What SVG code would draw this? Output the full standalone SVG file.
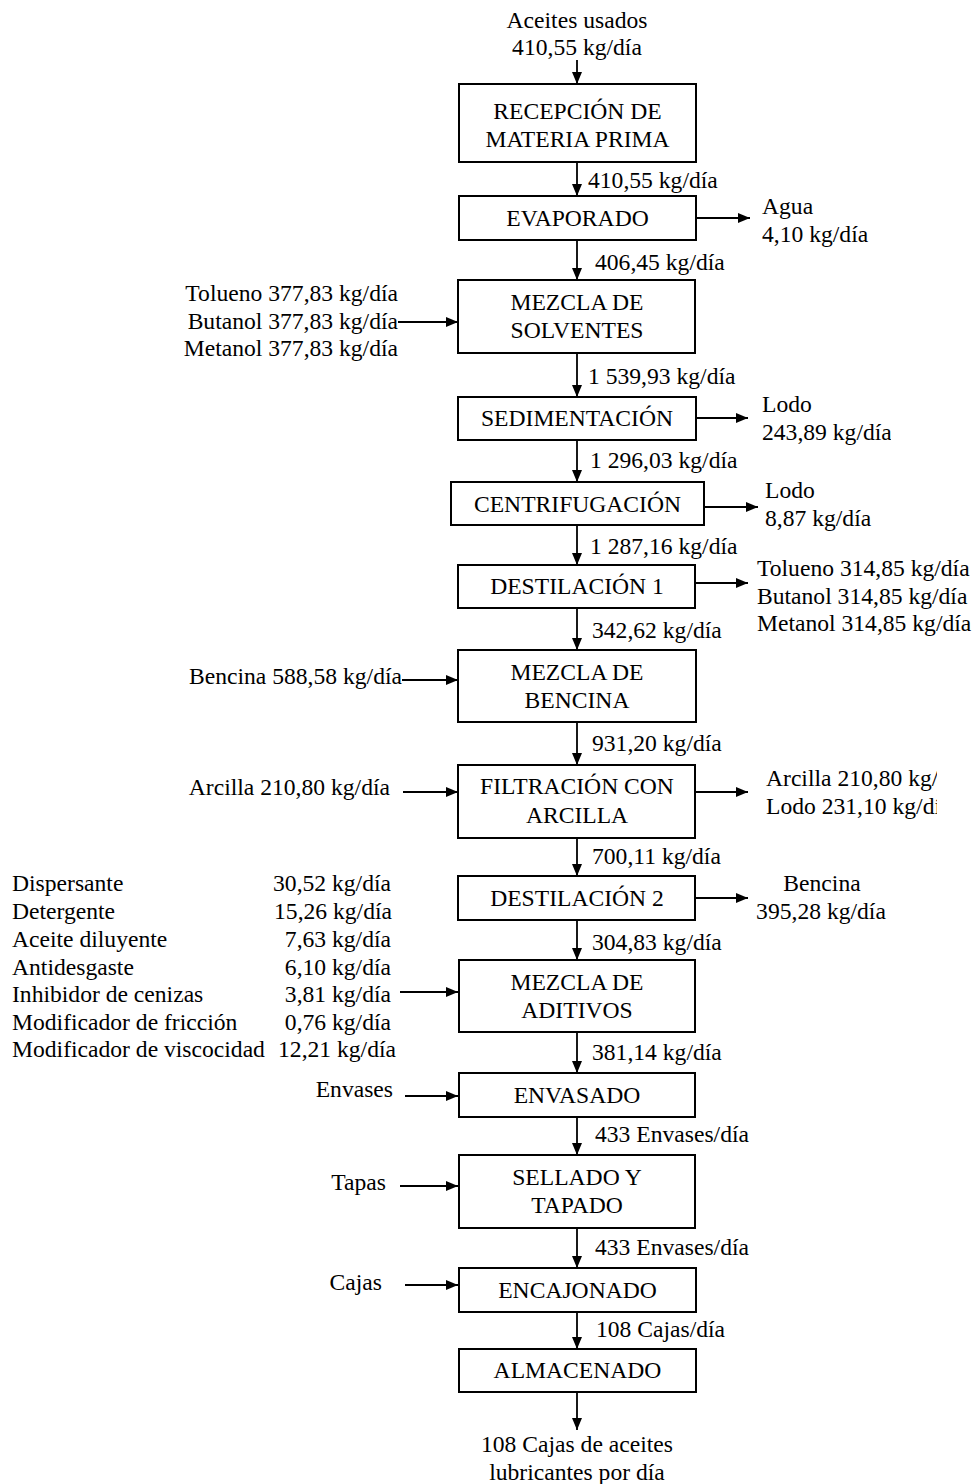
<svg xmlns="http://www.w3.org/2000/svg" width="976" height="1484" viewBox="0 0 976 1484">
<style>
.box{fill:#fff;stroke:#000;stroke-width:2}
.t{font-family:"Liberation Serif","Times New Roman",serif;font-size:23.6px;fill:#000}
.c{text-anchor:middle}
.e{text-anchor:end}
.ln{stroke:#000;stroke-width:1.8;fill:none;marker-end:url(#ah)}
</style>
<defs>
<marker id="ah" markerWidth="12" markerHeight="10" refX="12" refY="5" orient="auto" markerUnits="userSpaceOnUse"><path d="M0,0 L12,5 L0,10 z" fill="#000"/></marker>
<clipPath id="clipR1"><rect x="700" y="420" width="191" height="30"/></clipPath>
<clipPath id="clipR2"><rect x="700" y="760" width="237" height="70"/></clipPath>
</defs>
<rect width="976" height="1484" fill="#fff"/>
<g id="connectors">
<line class="ln" x1="577" y1="60" x2="577" y2="84"/>
<line class="ln" x1="577" y1="162" x2="577" y2="196"/>
<line class="ln" x1="577" y1="240" x2="577" y2="280"/>
<line class="ln" x1="577" y1="353" x2="577" y2="397"/>
<line class="ln" x1="577" y1="440" x2="577" y2="482"/>
<line class="ln" x1="577" y1="525" x2="577" y2="565"/>
<line class="ln" x1="577" y1="608" x2="577" y2="650"/>
<line class="ln" x1="577" y1="722" x2="577" y2="765"/>
<line class="ln" x1="577" y1="838" x2="577" y2="876"/>
<line class="ln" x1="577" y1="920" x2="577" y2="960"/>
<line class="ln" x1="577" y1="1032" x2="577" y2="1073"/>
<line class="ln" x1="577" y1="1117" x2="577" y2="1155"/>
<line class="ln" x1="577" y1="1228" x2="577" y2="1268"/>
<line class="ln" x1="577" y1="1312" x2="577" y2="1349"/>
<line class="ln" x1="577" y1="1392" x2="577" y2="1430"/>
<line class="ln" x1="696" y1="218" x2="750" y2="218"/>
<line class="ln" x1="398" y1="322" x2="458" y2="322"/>
<line class="ln" x1="696" y1="418" x2="748" y2="418"/>
<line class="ln" x1="704" y1="507" x2="758" y2="507"/>
<line class="ln" x1="695" y1="583" x2="748" y2="583"/>
<line class="ln" x1="402" y1="680" x2="458" y2="680"/>
<line class="ln" x1="403" y1="792" x2="458" y2="792"/>
<line class="ln" x1="695" y1="792" x2="748" y2="792"/>
<line class="ln" x1="695" y1="898" x2="748" y2="898"/>
<line class="ln" x1="400" y1="992" x2="458" y2="992"/>
<line class="ln" x1="405" y1="1096" x2="458" y2="1096"/>
<line class="ln" x1="400" y1="1186" x2="458" y2="1186"/>
<line class="ln" x1="405" y1="1285" x2="458" y2="1285"/>
</g>
<g id="labels">
<text class="t c" x="577" y="28">Aceites usados</text>
<text class="t c" x="577" y="55">410,55 kg/día</text>
<text class="t" x="588" y="188">410,55 kg/día</text>
<text class="t" x="762" y="214">Agua</text>
<text class="t" x="762" y="242">4,10 kg/día</text>
<text class="t" x="595" y="270">406,45 kg/día</text>
<text class="t e" x="398" y="301">Tolueno 377,83 kg/día</text>
<text class="t e" x="398" y="329">Butanol 377,83 kg/día</text>
<text class="t e" x="398" y="356">Metanol 377,83 kg/día</text>
<text class="t" x="588" y="384">1 539,93 kg/día</text>
<text class="t" x="762" y="412">Lodo</text>
<text class="t" x="762" y="440" clip-path="url(#clipR1)">243,89 kg/día</text>
<text class="t" x="590" y="468">1 296,03 kg/día</text>
<text class="t" x="765" y="498">Lodo</text>
<text class="t" x="765" y="526">8,87 kg/día</text>
<text class="t" x="590" y="554">1 287,16 kg/día</text>
<text class="t" x="757" y="576">Tolueno 314,85 kg/día</text>
<text class="t" x="757" y="604">Butanol 314,85 kg/día</text>
<text class="t" x="757" y="631">Metanol 314,85 kg/día</text>
<text class="t" x="592" y="638">342,62 kg/día</text>
<text class="t e" x="402" y="684">Bencina 588,58 kg/día</text>
<text class="t" x="592" y="751">931,20 kg/día</text>
<text class="t e" x="390" y="795">Arcilla 210,80 kg/día</text>
<text class="t" x="766" y="786" clip-path="url(#clipR2)">Arcilla 210,80 kg/día</text>
<text class="t" x="766" y="814" clip-path="url(#clipR2)">Lodo 231,10 kg/día</text>
<text class="t" x="592" y="864">700,11 kg/día</text>
<text class="t c" x="822" y="891">Bencina</text>
<text class="t c" x="821" y="919">395,28 kg/día</text>
<text class="t" x="592" y="950">304,83 kg/día</text>
<text class="t" x="12" y="891">Dispersante</text>
<text class="t e" x="391" y="891">30,52 kg/día</text>
<text class="t" x="12" y="919">Detergente</text>
<text class="t e" x="392" y="919">15,26 kg/día</text>
<text class="t" x="12" y="947">Aceite diluyente</text>
<text class="t e" x="391" y="947">7,63 kg/día</text>
<text class="t" x="12" y="975">Antidesgaste</text>
<text class="t e" x="391" y="975">6,10 kg/día</text>
<text class="t" x="12" y="1002">Inhibidor de cenizas</text>
<text class="t e" x="391" y="1002">3,81 kg/día</text>
<text class="t" x="12" y="1030">Modificador de fricción</text>
<text class="t e" x="391" y="1030">0,76 kg/día</text>
<text class="t" x="12" y="1057">Modificador de viscocidad</text>
<text class="t e" x="396" y="1057">12,21 kg/día</text>
<text class="t" x="592" y="1060">381,14 kg/día</text>
<text class="t e" x="393" y="1097">Envases</text>
<text class="t" x="595" y="1142">433 Envases/día</text>
<text class="t e" x="386" y="1190">Tapas</text>
<text class="t" x="595" y="1255">433 Envases/día</text>
<text class="t e" x="382" y="1290">Cajas</text>
<text class="t" x="596" y="1337">108 Cajas/día</text>
<text class="t c" x="577" y="1452">108 Cajas de aceites</text>
<text class="t c" x="577" y="1480">lubricantes por día</text>
</g>
<g id="n1"><rect class="box" x="459" y="84" width="237" height="78"/><text class="t c" x="577.5" y="119">RECEPCIÓN DE</text><text class="t c" x="577.5" y="147">MATERIA PRIMA</text></g>
<g id="n2"><rect class="box" x="459" y="196" width="237" height="44"/><text class="t c" x="577.5" y="226">EVAPORADO</text></g>
<g id="n3"><rect class="box" x="458" y="280" width="237" height="73"/><text class="t c" x="577" y="310">MEZCLA DE</text><text class="t c" x="577" y="338">SOLVENTES</text></g>
<g id="n4"><rect class="box" x="458" y="397" width="238" height="43"/><text class="t c" x="577" y="426">SEDIMENTACIÓN</text></g>
<g id="n5"><rect class="box" x="451" y="482" width="253" height="43"/><text class="t c" x="577.5" y="512">CENTRIFUGACIÓN</text></g>
<g id="n6"><rect class="box" x="458" y="565" width="237" height="43"/><text class="t c" x="577" y="594">DESTILACIÓN 1</text></g>
<g id="n7"><rect class="box" x="458" y="650" width="238" height="72"/><text class="t c" x="577" y="680">MEZCLA DE</text><text class="t c" x="577" y="708">BENCINA</text></g>
<g id="n8"><rect class="box" x="458" y="765" width="237" height="73"/><text class="t c" x="577" y="794">FILTRACIÓN CON</text><text class="t c" x="577" y="823">ARCILLA</text></g>
<g id="n9"><rect class="box" x="458" y="876" width="237" height="44"/><text class="t c" x="577" y="906">DESTILACIÓN 2</text></g>
<g id="n10"><rect class="box" x="459" y="960" width="236" height="72"/><text class="t c" x="577" y="990">MEZCLA DE</text><text class="t c" x="577" y="1018">ADITIVOS</text></g>
<g id="n11"><rect class="box" x="459" y="1073" width="236" height="44"/><text class="t c" x="577" y="1103">ENVASADO</text></g>
<g id="n12"><rect class="box" x="459" y="1155" width="236" height="73"/><text class="t c" x="577" y="1185">SELLADO Y</text><text class="t c" x="577" y="1213">TAPADO</text></g>
<g id="n13"><rect class="box" x="459" y="1268" width="237" height="44"/><text class="t c" x="577.5" y="1298">ENCAJONADO</text></g>
<g id="n14"><rect class="box" x="459" y="1349" width="237" height="43"/><text class="t c" x="577.5" y="1378">ALMACENADO</text></g>
</svg>
